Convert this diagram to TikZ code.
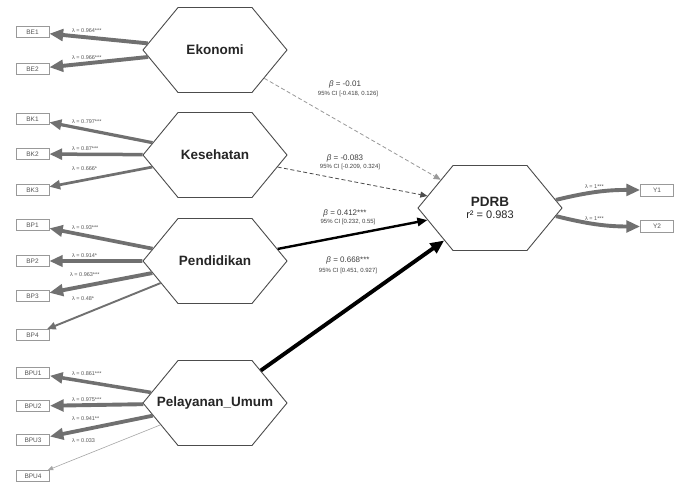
\documentclass[tikz,border=0pt]{standalone}
\usepackage{fontspec}
\setmainfont{Liberation Sans}
\usetikzlibrary{shapes.symbols,arrows.meta}
\definecolor{ldgray}{HTML}{707070}
\definecolor{txgray}{HTML}{555555}
\tikzset{
  latent/.style={signal, signal to=west and east, signal pointer angle=101,
    draw=black!70, line width=0.9pt, fill=white, minimum width=144pt,
    minimum height=85pt, inner sep=0pt, font=\bfseries\fontsize{13.5}{13.5}\selectfont, text=black!85},
  manifest/.style={draw=black!40, line width=0.8pt, fill=white, minimum width=33pt,
    minimum height=11pt, inner sep=0pt, font=\fontsize{6.5}{7}\selectfont, text=txgray},
  ld/.style={draw=ldgray, line width=#1pt, -{Triangle[length=4pt 2.5, width=3pt 2.2]}},
  ldl/.style={anchor=west, inner sep=0pt, font=\fontsize{5.5}{6}\selectfont, text=txgray},
  pth/.style={draw=black, line width=#1pt, -{Triangle[length=4pt 2.5, width=3pt 2.2]}},
  dpth/.style={draw=#1, line width=0.8pt, dash pattern=on 4pt off 2.5pt, -{Triangle[length=7pt, width=6pt]}},
  blab/.style={inner sep=0pt, font=\fontsize{8}{8}\selectfont, text=black!75},
  clab/.style={inner sep=0pt, font=\fontsize{6}{6}\selectfont, text=black!75},
}
\begin{document}
\begin{tikzpicture}[x=1pt,y=-1pt]
\fill[white] (0,0) rectangle (677,483);
\useasboundingbox (0,0) rectangle (677,483);

% indicator boxes
\node[manifest] (BE1) at (32.5,32) {BE1};
\node[manifest] (BE2) at (32.5,69) {BE2};
\node[manifest] (BK1) at (32.5,119) {BK1};
\node[manifest] (BK2) at (32.5,154) {BK2};
\node[manifest] (BK3) at (32.5,190) {BK3};
\node[manifest] (BP1) at (32.5,225) {BP1};
\node[manifest] (BP2) at (32.5,261) {BP2};
\node[manifest] (BP3) at (32.5,296) {BP3};
\node[manifest] (BP4) at (32.5,335) {BP4};
\node[manifest] (BPU1) at (33,373) {BPU1};
\node[manifest] (BPU2) at (33,406) {BPU2};
\node[manifest] (BPU3) at (33,440) {BPU3};
\node[manifest] (BPU4) at (33,476) {BPU4};
\node[manifest, minimum height=12pt] (Y1) at (657,190) {Y1};
\node[manifest, minimum height=12pt] (Y2) at (657,226.5) {Y2};

% latent variables
\node[latent] (EK) at (215,50) {Ekonomi};
\node[latent] (KS) at (215,155) {Kesehatan};
\node[latent] (PD) at (215,261) {Pendidikan};
\node[latent] (PU) at (215,403) {\makebox[0pt]{Pelayanan\_Umum}};
\node[latent, align=center] (PDRB) at (490,208) {PDRB\\[-1pt]{\mdseries\fontsize{11}{11}\selectfont r² = 0.983}};

% loadings
\draw[ld=3.9] (EK) -- (BE1);
\draw[ld=3.9] (EK) -- (BE2);
\draw[ld=3.2] (KS) -- (BK1);
\draw[ld=3.5] (KS) -- (BK2);
\draw[ld=2.7] (KS) -- (BK3);
\draw[ld=3.7] (PD) -- (BP1);
\draw[ld=3.7] (PD) -- (BP2);
\draw[ld=3.9] (PD) -- (BP3);
\draw[ld=1.9] (PD) -- (BP4);
\draw[ld=3.5] (PU) -- (BPU1);
\draw[ld=3.9] (PU) -- (BPU2);
\draw[ld=3.8] (PU) -- (BPU3);
\draw[ld=0.6, draw=black!35] (PU) -- (BPU4);
\draw[ld=3.9] (PDRB.7) to[bend left=7] (Y1.west);
\draw[ld=3.9] (PDRB.-7) to[bend right=7] (Y2.west);

\node[ldl] (lBE1) at (72,30.5) {λ = 0.964***};
\node[ldl] (lBE2) at (72,57.5) {λ = 0.966***};
\node[ldl] (lBK1) at (72,122) {λ = 0.797***};
\node[ldl] (lBK2) at (72,148.5) {λ = 0.87***};
\node[ldl] (lBK3) at (72,169) {λ = 0.666*};
\node[ldl] (lBP1) at (72,228) {λ = 0.93***};
\node[ldl] (lBP2) at (72,255.5) {λ = 0.914*};
\node[ldl] (lBP3) at (70,275) {λ = 0.963***};
\node[ldl] (lBP4) at (72,298.5) {λ = 0.48*};
\node[ldl] (lBPU1) at (72,374) {λ = 0.861***};
\node[ldl] (lBPU2) at (72,399.5) {λ = 0.975***};
\node[ldl] (lBPU3) at (72,419) {λ = 0.941**};
\node[ldl] (lBPU4) at (72,440.5) {λ = 0.033};
\node[ldl] (lY1) at (585,187) {λ = 1***};
\node[ldl] (lY2) at (585,218.5) {λ = 1***};

% structural paths
\draw[dpth=black!40] (EK) -- (PDRB);
\draw[dpth=black!70] (KS) -- (PDRB);
\draw[pth=2.4] (PD) -- (PDRB);
\draw[pth=3.9] (PU) -- (PDRB);

\node[blab] (b1) at (345,84) {\textit{β} = -0.01};
\node[clab] (c1) at (348,94) {95\% CI [-0.418, 0.126]};
\node[blab] (b2) at (345,158) {\textit{β} = -0.083};
\node[clab] (c2) at (350,167) {95\% CI [-0.209, 0.324]};
\node[blab] (b3) at (345,213) {\textit{β} = 0.412***};
\node[clab] (c3) at (348,222) {95\% CI [0.232, 0.55]};
\node[blab] (b4) at (348,260) {\textit{β} = 0.668***};
\node[clab] (c4) at (348,271) {95\% CI [0.451, 0.927]};
\end{tikzpicture}
\end{document}
